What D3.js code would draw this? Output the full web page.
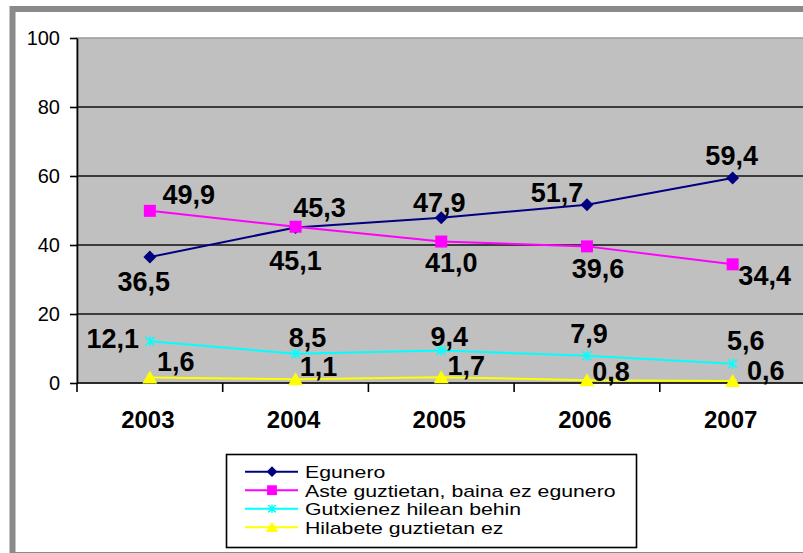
<!DOCTYPE html>
<html>
<head>
<meta charset="utf-8">
<script src="https://cdn.jsdelivr.net/npm/d3@7"></script>
<style>
  body { margin: 0; background: #fff; }
  svg { display: block; font-family: "Liberation Sans", Arial, sans-serif; }
</style>
</head>
<body>
<svg id="chart" width="803" height="553"></svg>
<script>
// data
var years = ["2003", "2004", "2005", "2006", "2007"];
var egunero = [36.5, 45.1, 47.9, 51.7, 59.4];
var aste = [49.9, 45.3, 41.0, 39.6, 34.4];
var gutxienez = [12.1, 8.5, 9.4, 7.9, 5.6];
var hilabete = [1.6, 1.1, 1.7, 0.8, 0.6];
var seriesNames = ["Egunero", "Aste guztietan, baina ez egunero", "Gutxienez hilean behin", "Hilabete guztietan ez"];
var yTicks = [0, 20, 40, 60, 80, 100];

// label nudges (dx of label centre, dy of baseline) relative to each point
var labelNudge = [
	[[-6, 34], [0, 43], [-2, -6], [-30, -3], [-1, -13]],
	[[39, -7], [24, -10], [10, 30], [11, 32], [32, 21]],
	[[-37, 7], [12, -7], [8, -5], [2, -13], [13, -14]],
	[[26, -6], [23, -3], [25, -2], [24, 1], [33, -1]]
];

var colors = ["#000080", "#ff00ff", "#00ffff", "#ffff00"];
var markers = ["diamond", "square", "star", "triangle"];

var svg = d3.select("#chart");

// outer frame
svg.append("rect")
	.attr("x", 12.5).attr("y", 9)
	.attr("width", 820).attr("height", 546)
	.attr("fill", "#fff")
	.attr("stroke", "#8a8a8a")
	.attr("stroke-width", 6);

var plotLeft = 77, plotTop = 38, plotBottom = 383, plotRight = 805.5;

var x = d3.scaleBand().domain(years).range([plotLeft, plotRight]);
var y = d3.scaleLinear().domain([0, 100]).range([plotBottom, plotTop]);

// plot area
svg.append("rect")
	.attr("x", plotLeft).attr("y", plotTop)
	.attr("width", plotRight - plotLeft).attr("height", plotBottom - plotTop)
	.attr("fill", "#c0c0c0")
	.attr("stroke", "#9a9a9a")
	.attr("stroke-width", 1.5);

// gridlines
svg.append("g").selectAll("line")
	.data(yTicks.filter(d => d > 0 && d < 100))
	.join("line")
	.attr("x1", plotLeft).attr("x2", plotRight)
	.attr("y1", d => y(d)).attr("y2", d => y(d))
	.attr("stroke", "#111")
	.attr("stroke-width", 1.6);

// y axis
var yAxis = svg.append("g")
	.attr("transform", "translate(" + plotLeft + ",0)")
	.call(d3.axisLeft(y).tickValues(yTicks).tickSize(7).tickSizeOuter(0).tickPadding(10));
yAxis.select(".domain").attr("stroke", "#000").attr("stroke-width", 1.6);
yAxis.selectAll(".tick line").attr("stroke", "#000").attr("stroke-width", 1.6);
yAxis.selectAll("text")
	.attr("font-size", "20px")
	.attr("font-family", "Liberation Sans, Arial, sans-serif")
	.attr("fill", "#000");

// x axis
var xAxis = svg.append("g")
	.attr("transform", "translate(0," + plotBottom + ")")
	.call(d3.axisBottom(x).tickSize(0).tickPadding(28));
xAxis.select(".domain").remove();
xAxis.selectAll("text")
	.attr("font-size", "24px")
	.attr("font-weight", "bold")
	.attr("font-family", "Liberation Sans, Arial, sans-serif")
	.attr("dx", -2)
	.attr("fill", "#000");
svg.append("line")
	.attr("x1", plotLeft).attr("x2", plotRight)
	.attr("y1", plotBottom).attr("y2", plotBottom)
	.attr("stroke", "#000").attr("stroke-width", 1.6);
svg.append("g").selectAll("line")
	.data(years.map(d => x(d)).concat([plotRight]))
	.join("line")
	.attr("x1", d => d).attr("x2", d => d)
	.attr("y1", plotBottom).attr("y2", plotBottom + 9)
	.attr("stroke", "#000").attr("stroke-width", 1.6);

function markerPath(type, s) {
	if (type === "diamond") return "M0," + (-6.5 * s) + "L" + (6.5 * s) + ",0L0," + (6.5 * s) + "L" + (-6.5 * s) + ",0Z";
	if (type === "square") return "M" + (-6 * s) + "," + (-6 * s) + "h" + (12 * s) + "v" + (12 * s) + "h" + (-12 * s) + "Z";
	if (type === "triangle") return "M0," + (-7 * s) + "L" + (7.5 * s) + "," + (6 * s) + "L" + (-7.5 * s) + "," + (6 * s) + "Z";
	// star: x with a vertical bar
	return "M" + (-4.5 * s) + "," + (-4.5 * s) + "L" + (4.5 * s) + "," + (4.5 * s) +
		"M" + (4.5 * s) + "," + (-4.5 * s) + "L" + (-4.5 * s) + "," + (4.5 * s) +
		"M0," + (-5 * s) + "L0," + (5 * s);
}

function drawMarker(g, type, color, s) {
	var p = g.append("path").attr("d", markerPath(type, s));
	if (type === "star") p.attr("fill", "none").attr("stroke", color).attr("stroke-width", 1.5);
	else p.attr("fill", color);
}

var allSeries = [egunero, aste, gutxienez, hilabete];
var line = d3.line()
	.x((d, i) => x(years[i]) + x.bandwidth() / 2)
	.y(d => y(d));

allSeries.forEach(function(values, si) {
	svg.append("path")
		.datum(values)
		.attr("d", line)
		.attr("fill", "none")
		.attr("stroke", colors[si])
		.attr("stroke-width", 2);
	values.forEach(function(v, i) {
		var g = svg.append("g")
			.attr("transform", "translate(" + (x(years[i]) + x.bandwidth() / 2) + "," + y(v) + ")");
		drawMarker(g, markers[si], colors[si], 1);
	});
});

// data labels
allSeries.forEach(function(values, si) {
	svg.append("g").selectAll("text")
		.data(values)
		.join("text")
		.attr("x", (d, i) => x(years[i]) + x.bandwidth() / 2 + labelNudge[si][i][0])
		.attr("y", (d, i) => y(d) + labelNudge[si][i][1])
		.attr("text-anchor", "middle")
		.attr("font-size", "27px")
		.attr("font-weight", "bold")
		.attr("fill", "#000")
		.text(d => d3.format(".1f")(d).replace(".", ","));
});

// legend
var legend = svg.append("g");
legend.append("rect")
	.attr("x", 226.5).attr("y", 454.5)
	.attr("width", 410).attr("height", 93)
	.attr("fill", "#fff")
	.attr("stroke", "#000")
	.attr("stroke-width", 1.6);
seriesNames.forEach(function(name, i) {
	var cy = 471.7 + i * 18.5;
	legend.append("line")
		.attr("x1", 245).attr("x2", 298)
		.attr("y1", cy).attr("y2", cy)
		.attr("stroke", colors[i]).attr("stroke-width", 2);
	var g = legend.append("g").attr("transform", "translate(272," + cy + ")");
	drawMarker(g, markers[i], colors[i], 0.82);
	legend.append("text")
		.attr("transform", "translate(305," + (cy + 6.5) + ") scale(1.25,1)")
		.attr("font-size", "17px")
		.attr("fill", "#000")
		.text(name);
});
</script>
</body>
</html>
